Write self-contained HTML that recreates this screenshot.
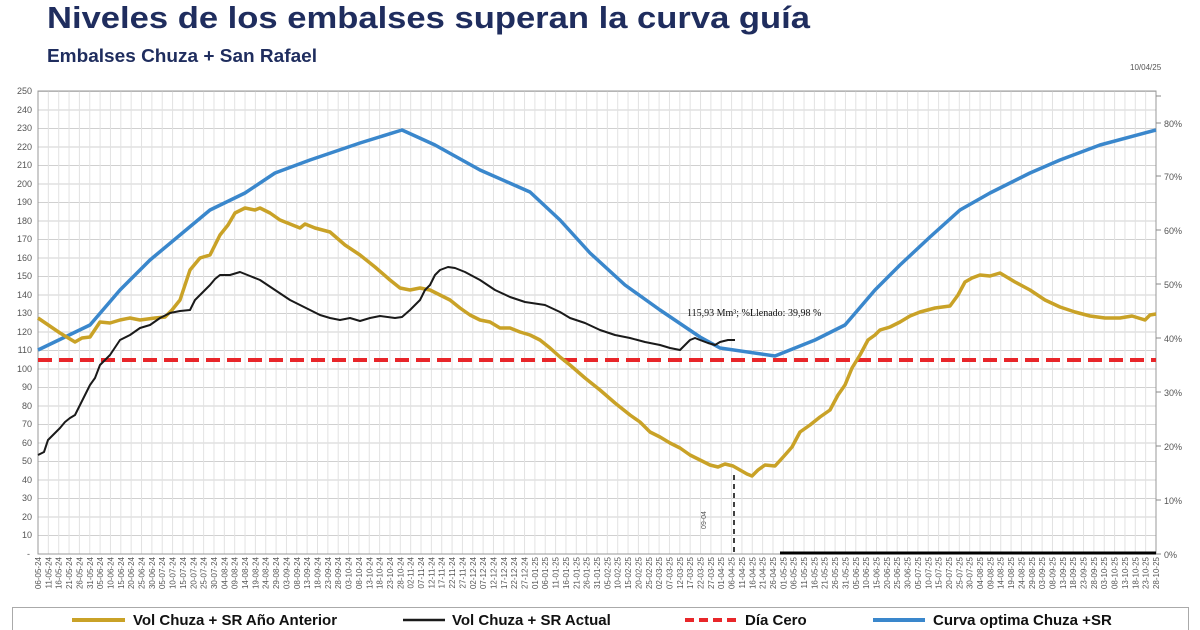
<!DOCTYPE html>
<html><head><meta charset="utf-8"><style>
html,body{margin:0;padding:0;background:#fff;width:1200px;height:630px;overflow:hidden}
svg{display:block;font-family:"Liberation Sans",sans-serif}
.t{font-size:8px;fill:#555}
.ax{font-size:9px;fill:#555}
</style></head><body>
<svg width="1200" height="630" viewBox="0 0 1200 630" xmlns="http://www.w3.org/2000/svg">
<text x="47" y="28" font-size="31" font-weight="bold" fill="#1f2d5e" textLength="763" lengthAdjust="spacingAndGlyphs">Niveles de los embalses superan la curva guía</text>
<text x="47" y="62" font-size="18" font-weight="bold" fill="#1f2d5e" textLength="270" lengthAdjust="spacingAndGlyphs">Embalses Chuza + San Rafael</text>
<text x="1130" y="70" font-size="8" fill="#555">10/04/25</text>

<g stroke="#d0d0d0" stroke-width="1">
<path id="hg" d="M38 91.5H1156M38 110H1156M38 128.5H1156M38 147H1156M38 165.5H1156M38 184H1156M38 202.5H1156M38 221H1156M38 239.5H1156M38 258H1156M38 276.5H1156M38 295H1156M38 313.5H1156M38 332H1156M38 350.5H1156M38 369H1156M38 387.5H1156M38 406H1156M38 424.5H1156M38 443H1156M38 461.5H1156M38 480H1156M38 498.5H1156M38 517H1156M38 535.5H1156"/>
</g>
<g stroke="#e2e2e2" stroke-width="1" id="vg"></g>
<rect x="38" y="91" width="1118" height="463" fill="none" stroke="#999"/>
<g stroke="#888"><path d="M1156 554h5M1156 500h5M1156 446h5M1156 392h5M1156 338h5M1156 284h5M1156 230h5M1156 176h5M1156 123h5M1156 96h5"/></g>

<g class="ax" text-anchor="end">
<text x="32" y="94">250</text><text x="32" y="113">240</text><text x="32" y="131">230</text><text x="32" y="150">220</text><text x="32" y="168">210</text><text x="32" y="187">200</text><text x="32" y="205">190</text><text x="32" y="224">180</text><text x="32" y="242">170</text><text x="32" y="261">160</text><text x="32" y="279">150</text><text x="32" y="298">140</text><text x="32" y="316">130</text><text x="32" y="335">120</text><text x="32" y="353">110</text><text x="32" y="372">100</text><text x="32" y="390">90</text><text x="32" y="409">80</text><text x="32" y="427">70</text><text x="32" y="446">60</text><text x="32" y="464">50</text><text x="32" y="483">40</text><text x="32" y="501">30</text><text x="32" y="520">20</text><text x="32" y="538">10</text><text x="30" y="557">-</text>
</g>
<g class="ax" font-size="10">
<text x="1164" y="558">0%</text><text x="1164" y="504">10%</text><text x="1164" y="450">20%</text><text x="1164" y="396">30%</text><text x="1164" y="342">40%</text><text x="1164" y="288">50%</text><text x="1164" y="234">60%</text><text x="1164" y="180">70%</text><text x="1164" y="127">80%</text>
</g>

<g class="t" text-anchor="end" id="xl">
</g>

<line x1="38" y1="360" x2="1156" y2="360" stroke="#e8262a" stroke-width="4" stroke-dasharray="14,7"/>
<polyline fill="none" stroke="#3a87cc" stroke-width="3.5" stroke-linejoin="round" points="38,350 90,325 120,290 150,260 210,210 245,193 275,173 310,160 360,143 402,130 435,145 480,170 530,192 560,220 590,253 625,285 660,310 700,337 720,348 775,356 815,340 845,325 875,290 900,265 930,237 960,210 990,193 1030,173 1060,160 1100,145 1156,130"/>
<polyline fill="none" stroke="#c9a227" stroke-width="3.5" stroke-linejoin="round" points="38,318 60,333 75,342 82,338 90,337 100,322 110,323 120,320 130,318 140,320 155,318 165,317 172,310 180,300 185,285 190,270 200,258 210,255 215,245 220,235 228,225 235,213 245,208 255,210 260,208 270,213 280,220 290,224 300,228 305,224 315,228 330,232 345,245 360,255 375,267 390,280 400,288 410,290 420,288 430,290 440,295 450,300 460,308 470,315 480,320 490,322 500,328 510,328 520,332 530,335 540,340 550,348 560,357 570,365 585,378 600,390 615,403 630,415 640,422 650,432 660,437 670,443 680,448 690,455 700,460 710,465 718,467 725,464 733,466 740,470 747,474 752,476 758,470 765,465 775,466 785,455 792,447 800,432 810,425 820,417 830,410 838,395 845,385 852,368 860,355 868,340 875,335 880,330 890,327 900,322 910,316 920,312 935,308 950,306 958,295 965,282 972,278 980,275 990,276 1000,273 1015,282 1030,290 1045,300 1060,307 1075,312 1090,316 1105,318 1120,318 1132,316 1145,320 1150,315 1156,314"/>
<polyline fill="none" stroke="#1a1a1a" stroke-width="2" stroke-linejoin="round" points="38,455 44,452 48,440 55,433 60,428 65,422 70,418 75,415 80,405 85,395 90,385 95,378 100,365 110,355 120,340 130,335 140,328 150,325 160,318 170,313 180,311 190,310 195,300 200,295 210,285 215,279 220,275 230,275 240,272 250,276 260,280 275,290 290,300 300,305 310,310 320,315 330,318 340,320 350,318 360,321 370,318 380,316 395,318 402,317 410,310 420,300 425,290 430,285 435,275 440,270 448,267 455,268 465,272 480,280 495,290 510,297 525,302 545,305 560,312 570,318 585,323 600,330 615,335 630,338 645,342 660,345 670,348 680,350 685,345 690,340 695,338 700,340 708,343 715,345 720,342 728,340 735,340"/>

<line x1="734" y1="475" x2="734" y2="554" stroke="#000" stroke-width="1.5" stroke-dasharray="5,4"/>
<text transform="translate(706,520) rotate(-90)" font-size="7" fill="#555" text-anchor="middle">09-04</text>
<line x1="780" y1="553" x2="1156" y2="553" stroke="#000" stroke-width="3"/>
<text x="687" y="316" font-size="10" font-family="Liberation Serif, serif" fill="#111">115,93 Mm³; %Llenado: 39,98 %</text>

<rect x="12.5" y="607.5" width="1176" height="30" fill="#fff" stroke="#aaa"/>
<g font-size="15" font-weight="bold" fill="#111">
<line x1="72" y1="620" x2="125" y2="620" stroke="#c9a227" stroke-width="4"/>
<text x="133" y="625">Vol Chuza + SR Año Anterior</text>
<line x1="403" y1="620" x2="445" y2="620" stroke="#1a1a1a" stroke-width="2.5"/>
<text x="452" y="625">Vol Chuza + SR Actual</text>
<line x1="685" y1="620" x2="740" y2="620" stroke="#e8262a" stroke-width="4" stroke-dasharray="9,5"/>
<text x="745" y="625">Día Cero</text>
<line x1="873" y1="620" x2="925" y2="620" stroke="#3a87cc" stroke-width="4"/>
<text x="933" y="625">Curva optima Chuza +SR</text>
</g>
</svg>
<script>
(function(){
var days=["06-05-24","11-05-24","16-05-24","21-05-24","26-05-24","31-05-24","05-06-24","10-06-24","15-06-24","20-06-24","25-06-24","30-06-24","05-07-24","10-07-24","15-07-24","20-07-24","25-07-24","30-07-24","04-08-24","09-08-24","14-08-24","19-08-24","24-08-24","29-08-24","03-09-24","08-09-24","13-09-24","18-09-24","23-09-24","28-09-24","03-10-24","08-10-24","13-10-24","18-10-24","23-10-24","28-10-24","02-11-24","07-11-24","12-11-24","17-11-24","22-11-24","27-11-24","02-12-24","07-12-24","12-12-24","17-12-24","22-12-24","27-12-24","01-01-25","06-01-25","11-01-25","16-01-25","21-01-25","26-01-25","31-01-25","05-02-25","10-02-25","15-02-25","20-02-25","25-02-25","02-03-25","07-03-25","12-03-25","17-03-25","22-03-25","27-03-25","01-04-25","06-04-25","11-04-25","16-04-25","21-04-25","26-04-25","01-05-25","06-05-25","11-05-25","16-05-25","21-05-25","26-05-25","31-05-25","05-06-25","10-06-25","15-06-25","20-06-25","25-06-25","30-06-25","05-07-25","10-07-25","15-07-25","20-07-25","25-07-25","30-07-25","04-08-25","09-08-25","14-08-25","19-08-25","24-08-25","29-08-25","03-09-25","08-09-25","13-09-25","18-09-25","23-09-25","28-09-25","03-10-25","08-10-25","13-10-25","18-10-25","23-10-25","28-10-25"];
var ns="http://www.w3.org/2000/svg",xl=document.getElementById("xl"),vg=document.getElementById("vg");
var step=1118/(days.length-1);
days.forEach(function(d,i){var x=38+i*step;
var t=document.createElementNS(ns,"text");t.setAttribute("transform","translate("+(x+3).toFixed(1)+",557) rotate(-90)");t.textContent=d;xl.appendChild(t);
var l=document.createElementNS(ns,"line");l.setAttribute("x1",x);l.setAttribute("x2",x);l.setAttribute("y1",91);l.setAttribute("y2",554);vg.appendChild(l);});
})();
</script>
</body></html>
